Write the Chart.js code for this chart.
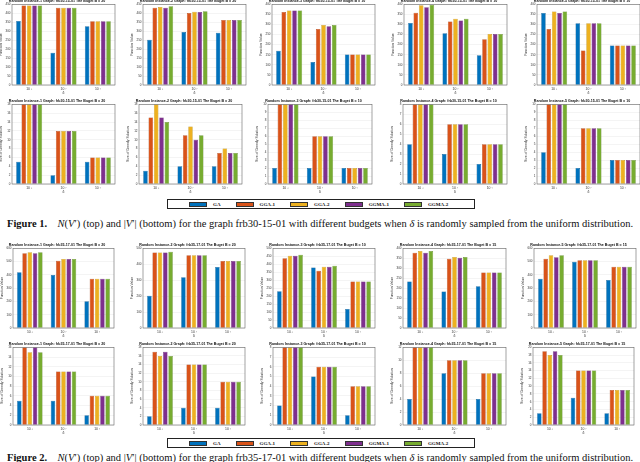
<!DOCTYPE html>
<html>
<head>
<meta charset="utf-8">
<script src="https://cdn.jsdelivr.net/npm/chart.js@4.4.0/dist/chart.umd.min.js"></script>
<style>
  html, body { margin: 0; padding: 0; background: #fff; width: 640px; height: 462px; overflow: hidden; position: relative; }
  canvas { position: absolute; }
  .legend { position: absolute; border: 1px solid #222; display: flex; align-items: center; box-sizing: border-box;
            font: bold 5px "Liberation Serif", serif; color: #111; }
  .legend .item { display: flex; align-items: center; margin-right: 15px; }
  .legend .sw { width: 18px; height: 5px; box-sizing: border-box; border: 0.6px solid #333; margin-right: 6px; }
  .caption { position: absolute; left: 7px; font: 10.5px "Liberation Serif", serif; white-space: nowrap; color: #111; }
</style>
</head>
<body>
<script>
const seriesNames = ["GA", "GGA-1", "GGA-2", "GGMA-1", "GGMA-2"];
const seriesColors = ["#0072BD", "#D95319", "#EDB120", "#7E2F8E", "#77AC30"];
const seriesEdges = ["#00518a", "#a33e12", "#b58712", "#5b2067", "#587f23"];
const deltaLabels = ["10\u207B\u00B3", "10\u207B\u00B2", "10\u207B\u00B9"];

// Figure 1 (frb30-15-01): function value, one row per series, columns = delta
const f1Inst1Value = [[357, 180, 328], [444, 431, 356], [444, 431, 356], [444, 431, 356], [444, 431, 356]];
const f1Inst2Value = [[252, 296, 291], [431, 402, 363], [435, 409, 363], [431, 407, 363], [439, 411, 363]];
const f1Inst3Value = [[170, 114, 151], [362, 278, 151], [369, 298, 151], [369, 291, 151], [369, 298, 151]];
const f1Inst4Value = [[308, 257, 147], [358, 315, 227], [395, 328, 253], [385, 320, 253], [398, 328, 253]];
const f1Inst5Value = [[357, 306, 196], [278, 171, 196], [364, 306, 196], [357, 306, 196], [364, 306, 196]];
// Figure 1: size of greedy solution
const f1Inst1Size = [[5, 2, 5], [18, 12, 6], [18, 12, 6], [18, 12, 6], [18, 12, 6]];
const f1Inst2Size = [[3, 4, 4], [15, 11, 7], [18, 13, 8], [15, 10, 7], [14, 11, 7]];
const f1Inst3Size = [[2, 2, 2], [10, 6, 2], [10, 6, 2], [10, 6, 2], [10, 6, 2]];
const f1Inst4Size = [[4, 3, 2], [8, 6, 4], [8, 6, 4], [8, 6, 4], [8, 6, 4]];
const f1Inst5Size = [[4, 2, 3], [10, 7, 3], [10, 7, 3], [10, 7, 3], [10, 7, 3]];

// Figure 2 (frb35-17-01): function value
const f2Inst1Value = [[420, 400, 202], [562, 507, 370], [570, 520, 370], [562, 520, 370], [570, 520, 370]];
const f2Inst2Value = [[202, 319, 382], [473, 456, 420], [473, 456, 420], [473, 456, 420], [479, 456, 420]];
const f2Inst3Value = [[230, 379, 119], [438, 360, 292], [453, 385, 292], [453, 385, 292], [459, 391, 292]];
const f2Inst4Value = [[234, 183, 210], [378, 348, 279], [387, 356, 279], [378, 353, 279], [387, 356, 279]];
const f2Inst5Value = [[370, 498, 362], [522, 510, 462], [548, 510, 462], [532, 510, 462], [548, 510, 462]];
// Figure 2: size of greedy solution
const f2Inst1Size = [[5, 5, 2], [16, 11, 6], [15, 11, 6], [16, 11, 6], [15, 11, 6]];
const f2Inst2Size = [[2, 4, 4], [17, 14, 10], [16, 14, 10], [17, 14, 10], [16, 14, 10]];
const f2Inst3Size = [[2, 5, 1], [8, 6, 4], [8, 6, 4], [8, 6, 4], [8, 6, 4]];
const f2Inst4Size = [[4, 8, 4], [12, 10, 8], [12, 10, 8], [12, 10, 8], [12, 10, 8]];
const f2Inst5Size = [[3, 7, 3], [19, 14, 9], [18, 14, 9], [19, 14, 9], [18, 14, 9]];

const fig1Titles = [
  "Random Instance-1 Graph: frb30-15-01 The Buget B = 20",
  "Random Instance-2 Graph: frb30-15-01 The Buget B = 20",
  "Random Instance-3 Graph: frb30-15-01 The Buget B = 10",
  "Random Instance-4 Graph: frb30-15-01 The Buget B = 10",
  "Random Instance-5 Graph: frb30-15-01 The Buget B = 10"
];
const fig2Titles = [
  "Random Instance-1 Graph: frb35-17-01 The Buget B = 20",
  "Random Instance-2 Graph: frb35-17-01 The Buget B = 20",
  "Random Instance-3 Graph: frb35-17-01 The Buget B = 10",
  "Random Instance-4 Graph: frb35-17-01 The Buget B = 15",
  "Random Instance-5 Graph: frb35-17-01 The Buget B = 15"
];

// y axis ranges per row
const row1Max = [450, 450, 400, 400, 400], row1Step = [50, 50, 50, 50, 50];
const row2Max = [18, 18, 10, 8, 10], row2Step = [2, 2, 1, 1, 1];
const row3Max = [600, 500, 500, 400, 600], row3Step = [100, 100, 50, 50, 100];
const row4Max = [16, 18, 8, 12, 20], row4Step = [2, 2, 1, 2, 2];

// layout: plot area of each panel (pixels)
const rowTopBottom = [[4, 85], [104, 184], [248, 328], [347, 425]];
const rowCols = [
  [[12, 115], [143, 246], [272, 375], [404, 507], [537, 640]],
  [[12, 115], [139, 242], [268, 372], [403, 507], [537, 640]],
  [[13, 114], [143, 245], [273, 375], [403, 506], [534, 636]],
  [[13, 114], [143, 245], [273, 375], [403, 506], [533, 634]]
];

const YW = 13, XH = 10, TH = 5.32;
const sans = "'Liberation Sans', Arial, sans-serif";

const boxPlugin = {
  id: "box",
  afterDraw(chart) {
    const a = chart.chartArea, ctx = chart.ctx;
    ctx.save();
    ctx.strokeStyle = "#666";
    ctx.lineWidth = 0.6;
    ctx.strokeRect(a.left, a.top, a.right - a.left, a.bottom - a.top);
    ctx.restore();
  }
};

function drawPanel(row, col, title, yTitle, yMax, yStep, values) {
  const [t, b] = rowTopBottom[row];
  const [l, r] = rowCols[row][col];
  const w = r - l + YW + 2, h = b - t + TH + XH;
  const cv = document.createElement("canvas");
  cv.width = w; cv.height = h;
  cv.style.left = (l - YW) + "px";
  cv.style.top = (t - TH) + "px";
  cv.style.width = w + "px";
  cv.style.height = h + "px";
  document.body.appendChild(cv);

  new Chart(cv.getContext("2d"), {
    type: "bar",
    data: {
      labels: deltaLabels,
      datasets: seriesNames.map((name, i) => ({
        label: name,
        data: values[i],
        backgroundColor: seriesColors[i],
        borderColor: seriesEdges[i],
        borderWidth: 0.5,
        categoryPercentage: 0.78,
        barPercentage: 0.85
      }))
    },
    options: {
      responsive: false,
      animation: false,
      layout: { padding: { left: 0, right: 2, top: 0, bottom: 0 } },
      plugins: {
        legend: { display: false },
        tooltip: { enabled: false },
        title: {
          display: true, text: title, color: "#111",
          font: { family: sans, size: 3.6, weight: "bold" },
          padding: { top: 0, bottom: 1 }
        }
      },
      scales: {
        x: {
          offset: true,
          grid: { display: false, drawTicks: false },
          border: { display: false },
          ticks: { color: "#333", font: { family: sans, size: 3.4 }, padding: 2 },
          title: { display: true, text: "\u03B4", color: "#333", font: { family: sans, size: 3.4 }, padding: 0 },
          afterFit(s) { s.height = XH; }
        },
        y: {
          min: 0, max: yMax,
          grid: { color: "#e8e8e8", lineWidth: 0.5, drawTicks: false },
          border: { display: false },
          ticks: { stepSize: yStep, color: "#333", font: { family: sans, size: 3 }, padding: 1.5 },
          title: { display: true, text: yTitle, color: "#333", font: { family: sans, size: 3.4 }, padding: 0 },
          afterFit(s) { s.width = YW; }
        }
      }
    },
    plugins: [boxPlugin]
  });
}

const fig1Value = [f1Inst1Value, f1Inst2Value, f1Inst3Value, f1Inst4Value, f1Inst5Value];
const fig1Size = [f1Inst1Size, f1Inst2Size, f1Inst3Size, f1Inst4Size, f1Inst5Size];
const fig2Value = [f2Inst1Value, f2Inst2Value, f2Inst3Value, f2Inst4Value, f2Inst5Value];
const fig2Size = [f2Inst1Size, f2Inst2Size, f2Inst3Size, f2Inst4Size, f2Inst5Size];

for (let c = 0; c < 5; c++) {
  drawPanel(0, c, fig1Titles[c], "Function Value", row1Max[c], row1Step[c], fig1Value[c]);
  drawPanel(1, c, fig1Titles[c], "Size of Greedy Solution", row2Max[c], row2Step[c], fig1Size[c]);
  drawPanel(2, c, fig2Titles[c], "Function Value", row3Max[c], row3Step[c], fig2Value[c]);
  drawPanel(3, c, fig2Titles[c], "Size of Greedy Solution", row4Max[c], row4Step[c], fig2Size[c]);
}

function drawLegend(top) {
  const box = document.createElement("div");
  box.className = "legend";
  box.style.left = "167px";
  box.style.top = top + "px";
  box.style.width = "308px";
  box.style.height = "10px";
  box.style.paddingLeft = "21px";
  seriesNames.forEach((name, i) => {
    const item = document.createElement("div");
    item.className = "item";
    const sw = document.createElement("div");
    sw.className = "sw";
    sw.style.background = seriesColors[i];
    const txt = document.createElement("span");
    txt.textContent = name;
    item.appendChild(sw);
    item.appendChild(txt);
    box.appendChild(item);
  });
  document.body.appendChild(box);
}
drawLegend(199);
drawLegend(438);

function drawCaption(top, num, graph) {
  const cap = document.createElement("div");
  cap.className = "caption";
  cap.style.top = top + "px";
  cap.innerHTML = "<b>Figure " + num + ".</b>&nbsp;&nbsp;&nbsp;&nbsp;<i>N</i>(<i>V</i>\u2032) (top) and |<i>V</i>\u2032| (bottom) for the graph " +
    graph + " with different budgets when <i>\u03B4</i> is randomly sampled from the uniform distribution.";
  document.body.appendChild(cap);
}
drawCaption(218, 1, "frb30-15-01");
drawCaption(452, 2, "frb35-17-01");
</script>
</body>
</html>
